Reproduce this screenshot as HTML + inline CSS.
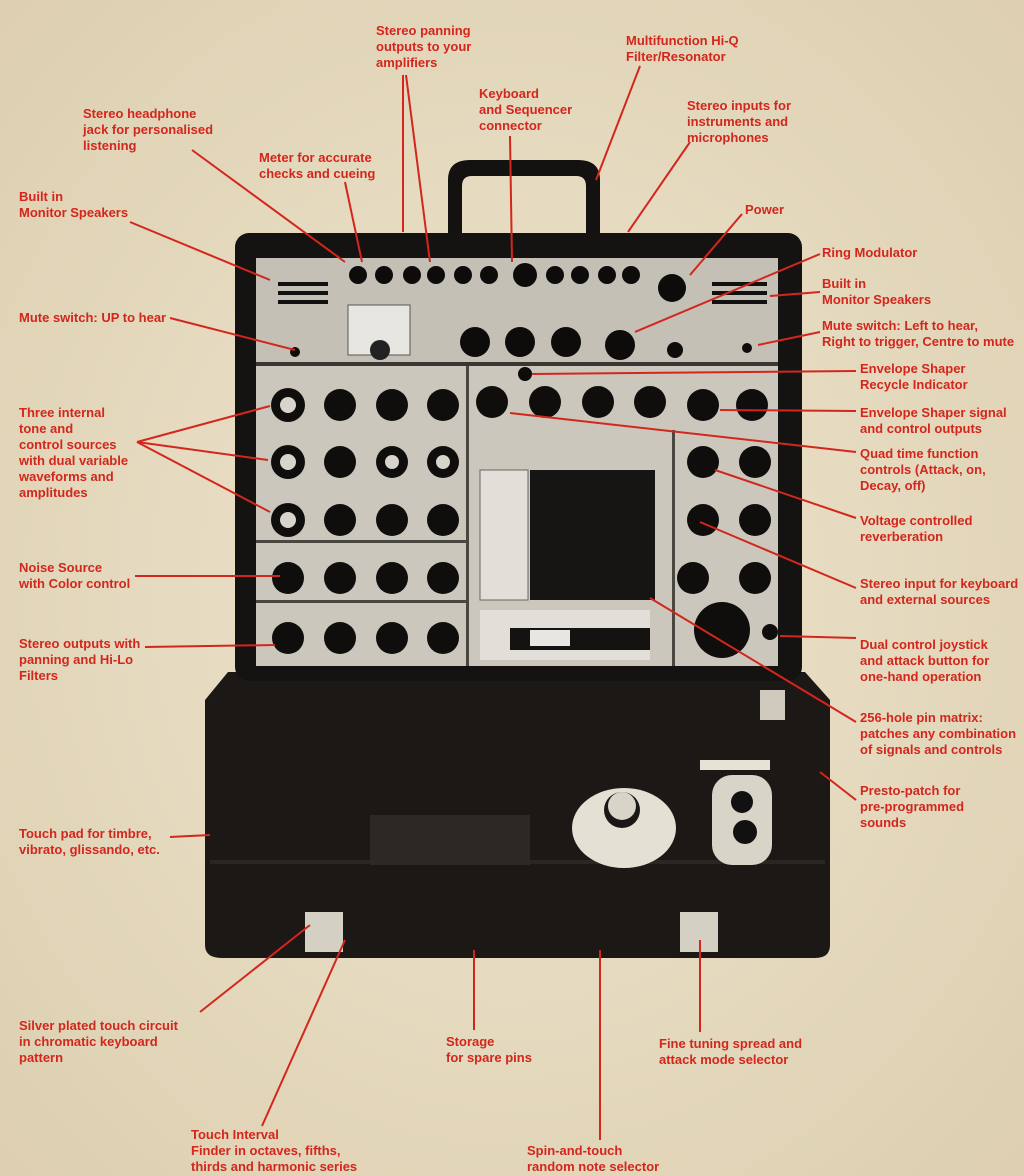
<!DOCTYPE html>
<html><head><meta charset="utf-8"><style>
html,body{margin:0;padding:0}
body{width:1024px;height:1176px;background:#e9dfc6;position:relative;overflow:hidden;font-family:"Liberation Sans Narrow","Liberation Sans",sans-serif}
.l{position:absolute;color:#d3261c;font-weight:bold;font-size:13px;line-height:16px;white-space:nowrap}
svg{position:absolute;left:0;top:0}
</style></head><body>
<svg width="1024" height="1176" viewBox="0 0 1024 1176">
<defs><radialGradient id="bg" cx="50%" cy="50%" r="70%"><stop offset="0" stop-color="#eee5cf"/><stop offset="1" stop-color="#ddcfb0"/></radialGradient></defs>
<rect width="1024" height="1176" fill="url(#bg)"/>
<!-- handle -->
<path d="M448 238 L448 180 Q448 160 470 160 L578 160 Q600 160 600 180 L600 238 L586 238 L586 186 Q586 176 576 176 L472 176 Q462 176 462 186 L462 238 Z" fill="#141210"/>
<!-- lower case -->
<path d="M228 672 L805 672 L830 700 L830 945 Q830 958 815 958 L222 958 Q205 958 205 945 L205 700 Z" fill="#1b1816"/>
<rect x="210" y="860" width="615" height="4" fill="#2a2623"/>
<!-- top lid -->
<rect x="235" y="233" width="567" height="448" rx="14" fill="#151311"/>
<rect x="256" y="258" width="522" height="408" fill="#cbc7bd"/>
<rect x="256" y="258" width="522" height="104" fill="#c4c0b5"/>
<rect x="256" y="362" width="522" height="4" fill="#3a3632"/>
<rect x="256" y="540" width="210" height="3" fill="#4a4640"/>
<rect x="256" y="600" width="210" height="3" fill="#4a4640"/>
<rect x="466" y="366" width="3" height="300" fill="#4a4640"/>
<rect x="672" y="430" width="3" height="236" fill="#4a4640"/>
<!-- speaker slots -->
<g fill="#111"><rect x="278" y="282" width="50" height="4"/><rect x="278" y="291" width="50" height="4"/><rect x="278" y="300" width="50" height="4"/>
<rect x="712" y="282" width="55" height="4"/><rect x="712" y="291" width="55" height="4"/><rect x="712" y="300" width="55" height="4"/></g>
<!-- top jacks row -->
<g fill="#0d0c0b">
<circle cx="358" cy="275" r="9"/><circle cx="384" cy="275" r="9"/><circle cx="412" cy="275" r="9"/><circle cx="436" cy="275" r="9"/><circle cx="463" cy="275" r="9"/><circle cx="489" cy="275" r="9"/><circle cx="525" cy="275" r="12"/><circle cx="555" cy="275" r="9"/><circle cx="580" cy="275" r="9"/><circle cx="607" cy="275" r="9"/><circle cx="631" cy="275" r="9"/><circle cx="672" cy="288" r="14"/>
<circle cx="475" cy="342" r="15"/><circle cx="520" cy="342" r="15"/><circle cx="566" cy="342" r="15"/><circle cx="620" cy="345" r="15"/><circle cx="675" cy="350" r="8"/><circle cx="747" cy="348" r="5"/><circle cx="295" cy="352" r="5"/><circle cx="525" cy="374" r="7"/>
</g>
<rect x="348" y="305" width="62" height="50" fill="#e8e6e0" stroke="#555"/><circle cx="380" cy="350" r="10" fill="#222"/>
<!-- knob grid -->
<g fill="#0f0e0c">
<circle cx="288" cy="405" r="17"/><circle cx="340" cy="405" r="16"/><circle cx="392" cy="405" r="16"/><circle cx="443" cy="405" r="16"/>
<circle cx="288" cy="462" r="17"/><circle cx="340" cy="462" r="16"/><circle cx="392" cy="462" r="16"/><circle cx="443" cy="462" r="16"/>
<circle cx="288" cy="520" r="17"/><circle cx="340" cy="520" r="16"/><circle cx="392" cy="520" r="16"/><circle cx="443" cy="520" r="16"/>
<circle cx="288" cy="578" r="16"/><circle cx="340" cy="578" r="16"/><circle cx="392" cy="578" r="16"/><circle cx="443" cy="578" r="16"/>
<circle cx="288" cy="638" r="16"/><circle cx="340" cy="638" r="16"/><circle cx="392" cy="638" r="16"/><circle cx="443" cy="638" r="16"/>
<circle cx="492" cy="402" r="16"/><circle cx="545" cy="402" r="16"/><circle cx="598" cy="402" r="16"/><circle cx="650" cy="402" r="16"/><circle cx="703" cy="405" r="16"/><circle cx="752" cy="405" r="16"/>
<circle cx="703" cy="462" r="16"/><circle cx="755" cy="462" r="16"/><circle cx="703" cy="520" r="16"/><circle cx="755" cy="520" r="16"/>
<circle cx="693" cy="578" r="16"/><circle cx="755" cy="578" r="16"/><circle cx="722" cy="630" r="28"/><circle cx="770" cy="632" r="8"/>
</g>
<g fill="#d8d4ca"><circle cx="288" cy="405" r="8"/><circle cx="288" cy="462" r="8"/><circle cx="288" cy="520" r="8"/><circle cx="392" cy="462" r="7"/><circle cx="443" cy="462" r="7"/></g>
<!-- matrix -->
<rect x="530" y="470" width="125" height="130" fill="#171514"/>
<rect x="480" y="470" width="48" height="130" fill="#e2dfd8" stroke="#666"/>
<rect x="480" y="610" width="170" height="50" fill="#e2dfd8"/>
<rect x="510" y="628" width="140" height="22" fill="#151311"/><rect x="530" y="630" width="40" height="16" fill="#e8e6e0"/>
<!-- lower parts -->
<rect x="370" y="815" width="160" height="50" fill="#2c2824"/>
<ellipse cx="624" cy="828" rx="52" ry="40" fill="#e4e0d4"/><circle cx="622" cy="810" r="18" fill="#1a1816"/><circle cx="622" cy="806" r="14" fill="#d8d4c8"/>
<rect x="700" y="760" width="70" height="10" fill="#e6e2d6"/><rect x="712" y="775" width="60" height="90" rx="20" fill="#d8d4c8"/>
<circle cx="742" cy="802" r="11" fill="#111"/><circle cx="745" cy="832" r="12" fill="#111"/>
<rect x="305" y="912" width="38" height="40" fill="#d4d0c4"/><rect x="680" y="912" width="38" height="40" fill="#d4d0c4"/>
<rect x="760" y="690" width="25" height="30" fill="#cfcabd"/>
<!-- leader lines -->
<g stroke="#d3261c" stroke-width="2" fill="none">
<line x1="403" y1="75" x2="403" y2="232"/><line x1="406" y1="75" x2="430" y2="262"/>
<line x1="640" y1="66" x2="596" y2="180"/>
<line x1="510" y1="136" x2="512" y2="262"/>
<line x1="690" y1="142" x2="628" y2="232"/>
<line x1="192" y1="150" x2="345" y2="262"/>
<line x1="345" y1="182" x2="362" y2="262"/>
<line x1="742" y1="214" x2="690" y2="275"/>
<line x1="130" y1="222" x2="270" y2="280"/>
<line x1="820" y1="254" x2="635" y2="332"/>
<line x1="820" y1="292" x2="770" y2="296"/>
<line x1="170" y1="318" x2="295" y2="350"/>
<line x1="820" y1="332" x2="758" y2="345"/>
<line x1="856" y1="371" x2="532" y2="374"/>
<line x1="137" y1="442" x2="270" y2="406"/><line x1="137" y1="442" x2="268" y2="460"/><line x1="137" y1="442" x2="270" y2="512"/>
<line x1="856" y1="411" x2="720" y2="410"/>
<line x1="856" y1="452" x2="510" y2="413"/>
<line x1="856" y1="518" x2="715" y2="470"/>
<line x1="135" y1="576" x2="280" y2="576"/>
<line x1="856" y1="588" x2="700" y2="522"/>
<line x1="145" y1="647" x2="275" y2="645"/>
<line x1="856" y1="638" x2="780" y2="636"/>
<line x1="856" y1="722" x2="650" y2="598"/>
<line x1="856" y1="800" x2="820" y2="772"/>
<line x1="170" y1="837" x2="210" y2="835"/>
<line x1="200" y1="1012" x2="310" y2="925"/>
<line x1="474" y1="1030" x2="474" y2="950"/>
<line x1="700" y1="1032" x2="700" y2="940"/>
<line x1="262" y1="1126" x2="345" y2="940"/>
<line x1="600" y1="1140" x2="600" y2="950"/>
</g>
</svg>
<div class="l" style="left:376px;top:23px">Stereo panning<br>outputs to your<br>amplifiers</div>
<div class="l" style="left:626px;top:33px">Multifunction Hi-Q<br>Filter/Resonator</div>
<div class="l" style="left:479px;top:86px">Keyboard<br>and Sequencer<br>connector</div>
<div class="l" style="left:687px;top:98px">Stereo inputs for<br>instruments and<br>microphones</div>
<div class="l" style="left:83px;top:106px">Stereo headphone<br>jack for personalised<br>listening</div>
<div class="l" style="left:259px;top:150px">Meter for accurate<br>checks and cueing</div>
<div class="l" style="left:745px;top:202px">Power</div>
<div class="l" style="left:19px;top:189px">Built in<br>Monitor Speakers</div>
<div class="l" style="left:822px;top:245px">Ring Modulator</div>
<div class="l" style="left:822px;top:276px">Built in<br>Monitor Speakers</div>
<div class="l" style="left:19px;top:310px">Mute switch: UP to hear</div>
<div class="l" style="left:822px;top:318px">Mute switch: Left to hear,<br>Right to trigger, Centre to mute</div>
<div class="l" style="left:860px;top:361px">Envelope Shaper<br>Recycle Indicator</div>
<div class="l" style="left:19px;top:405px">Three internal<br>tone and<br>control sources<br>with dual variable<br>waveforms and<br>amplitudes</div>
<div class="l" style="left:860px;top:405px">Envelope Shaper signal<br>and control outputs</div>
<div class="l" style="left:860px;top:446px">Quad time function<br>controls (Attack, on,<br>Decay, off)</div>
<div class="l" style="left:860px;top:513px">Voltage controlled<br>reverberation</div>
<div class="l" style="left:19px;top:560px">Noise Source<br>with Color control</div>
<div class="l" style="left:860px;top:576px">Stereo input for keyboard<br>and external sources</div>
<div class="l" style="left:19px;top:636px">Stereo outputs with<br>panning and Hi-Lo<br>Filters</div>
<div class="l" style="left:860px;top:637px">Dual control joystick<br>and attack button for<br>one-hand operation</div>
<div class="l" style="left:860px;top:710px">256-hole pin matrix:<br>patches any combination<br>of signals and controls</div>
<div class="l" style="left:860px;top:783px">Presto-patch for<br>pre-programmed<br>sounds</div>
<div class="l" style="left:19px;top:826px">Touch pad for timbre,<br>vibrato, glissando, etc.</div>
<div class="l" style="left:19px;top:1018px">Silver plated touch circuit<br>in chromatic keyboard<br>pattern</div>
<div class="l" style="left:446px;top:1034px">Storage<br>for spare pins</div>
<div class="l" style="left:659px;top:1036px">Fine tuning spread and<br>attack mode selector</div>
<div class="l" style="left:191px;top:1127px">Touch Interval<br>Finder in octaves, fifths,<br>thirds and harmonic series</div>
<div class="l" style="left:527px;top:1143px">Spin-and-touch<br>random note selector</div>
</body></html>
